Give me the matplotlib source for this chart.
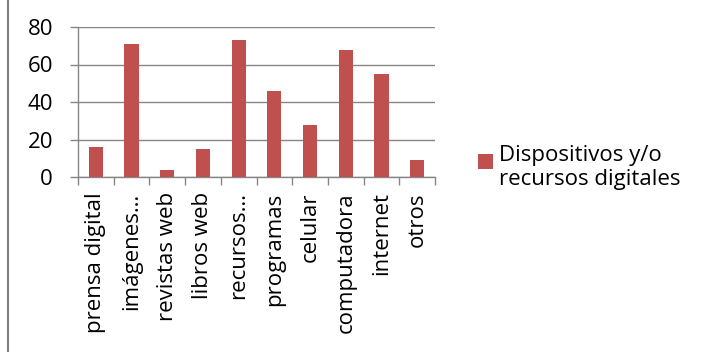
import matplotlib
matplotlib.use("Agg")
import matplotlib.pyplot as plt
from matplotlib.patches import Rectangle
from matplotlib.lines import Line2D

categories = ["prensa digital", "imágenes…", "revistas web", "libros web", "recursos…",
              "programas", "celular", "computadora", "internet", "otros"]
values = [16, 71, 4, 15, 73, 46, 28, 68, 55, 9]
series_name = "Dispositivos y/o\nrecursos digitales"
y_ticks = [0, 20, 40, 60, 80]

bar_color = "#C0504D"
grid_color = "#868686"

plt.rcParams["font.family"] = ["Open Sans", "DejaVu Sans"]

fig = plt.figure(figsize=(7.07, 3.52), dpi=100)
ax = fig.add_axes([78 / 707, 1 - 177 / 352, (435 - 78) / 707, 150 / 352])

x = list(range(len(categories)))
ax.bar(x, values, width=0.4, color=bar_color, zorder=3)

ax.set_xlim(-0.5, len(categories) - 0.5)
ax.set_ylim(0, 80)
ax.set_yticks(y_ticks)
ax.yaxis.grid(True, color=grid_color, linewidth=1.0, zorder=0)

# category boundaries carry the tick marks; labels sit at category centres
ax.set_xticks([i - 0.5 for i in range(len(categories) + 1)])
ax.set_xticklabels([])
ax.set_xticks(x, minor=True)
ax.set_xticklabels(categories, minor=True, rotation=90, ha="center", va="top",
                   fontsize=16)
ax.tick_params(axis="x", which="major", length=6, width=1.0, color=grid_color, direction="out")
ax.tick_params(axis="x", which="minor", length=0, pad=11)
ax.tick_params(axis="y", length=6, width=1.0, color=grid_color, labelsize=16, pad=12)

for side in ["top", "right"]:
    ax.spines[side].set_visible(False)
for side in ["left", "bottom"]:
    ax.spines[side].set_color(grid_color)
    ax.spines[side].set_linewidth(1.0)

# legend: colour swatch plus two-line series name
fig.patches.append(Rectangle((478 / 707, 1 - 169 / 352), 15 / 707, 15 / 352,
                             transform=fig.transFigure, facecolor=bar_color,
                             edgecolor="none"))
fig.text(499 / 707, 1 - 145 / 352, series_name, ha="left", va="top",
         fontsize=16, linespacing=1.2)

# left frame edge
fig.add_artist(Line2D([8 / 707, 8 / 707], [0, 1], transform=fig.transFigure,
                      color="#7f7f7f", linewidth=1.5))

fig.savefig("out.png", dpi=100)
